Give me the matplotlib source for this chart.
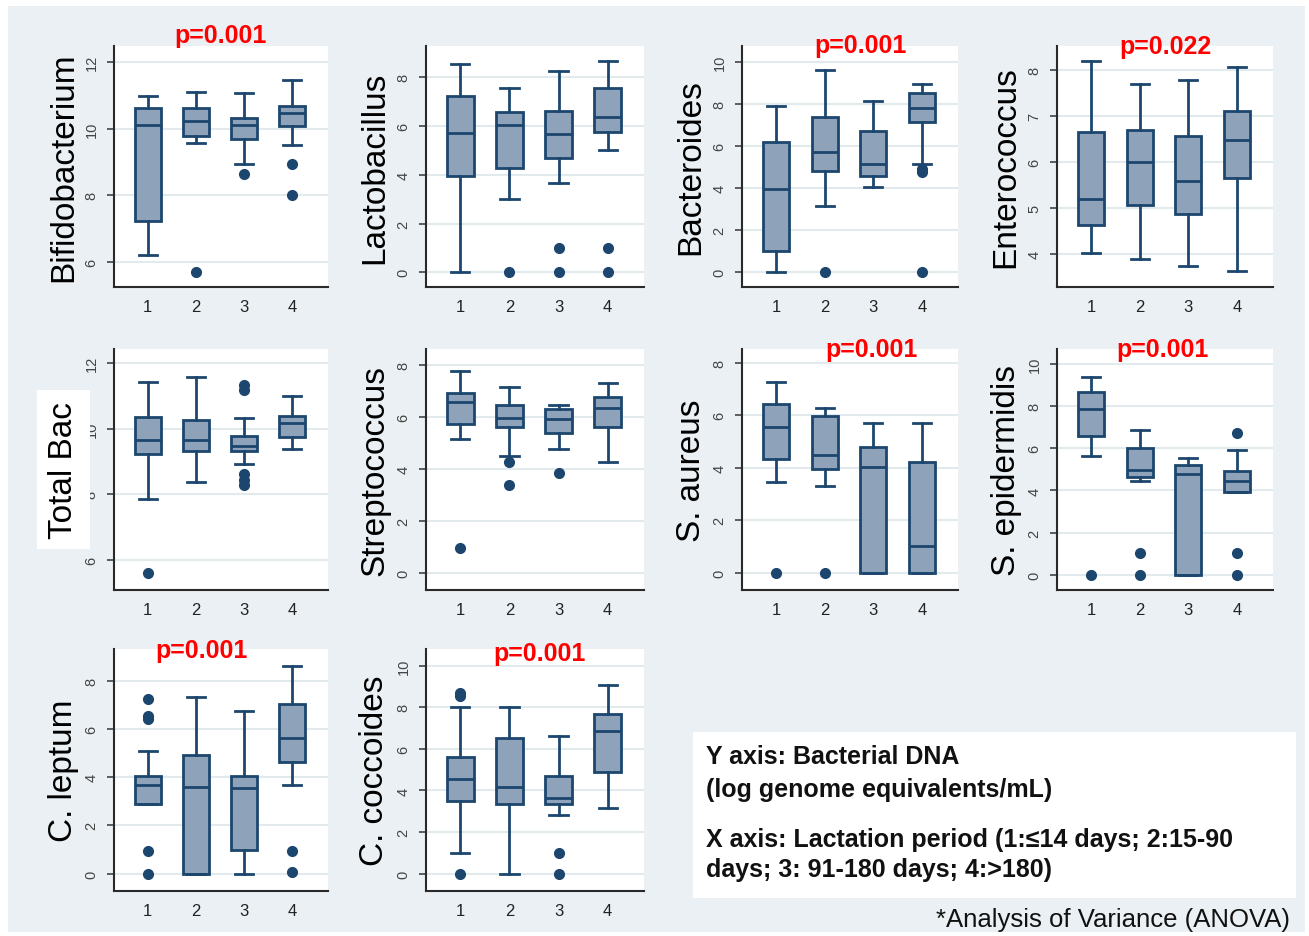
import matplotlib.pyplot as plt
from matplotlib.patches import Rectangle

plt.rcParams['font.family'] = ['Liberation Sans', 'DejaVu Sans']

# --- data: [lower whisker, Q1, median, Q3, upper whisker] per lactation period ---
groups = [1, 2, 3, 4]

bifido = [[6.22, 7.23, 10.1, 10.63, 10.96], [9.57, 9.78, 10.23, 10.62, 11.1],
          [8.93, 9.7, 10.1, 10.33, 11.05], [9.51, 10.07, 10.48, 10.68, 11.45]]
bifido_out = [[], [5.71], [8.64], [8.94, 8.02]]

lacto = [[0, 3.94, 5.72, 7.25, 8.55], [3.0, 4.28, 6.06, 6.56, 7.55],
         [3.65, 4.68, 5.68, 6.63, 8.27], [5.03, 5.74, 6.36, 7.55, 8.67]]
lacto_out = [[], [0], [1.0, 0], [1.0, 0]]

bactero = [[0, 0.98, 3.94, 6.17, 7.91], [3.16, 4.83, 5.7, 7.36, 9.62],
           [4.07, 4.56, 5.14, 6.72, 8.12], [5.13, 7.12, 7.82, 8.5, 8.97]]
bactero_out = [[], [0], [], [4.9, 4.75, 0]]

entero = [[4.03, 4.64, 5.2, 6.65, 8.2], [3.88, 5.07, 6.01, 6.7, 7.71],
          [3.74, 4.86, 5.59, 6.56, 7.78], [3.62, 5.66, 6.49, 7.12, 8.07]]
entero_out = [[], [], [], []]

total = [[7.85, 9.21, 9.65, 10.34, 11.43], [8.36, 9.31, 9.65, 10.27, 11.59],
         [8.92, 9.31, 9.48, 9.78, 10.33], [9.38, 9.73, 10.17, 10.37, 11.0]]
total_out = [[5.59], [], [11.33, 11.19, 8.61, 8.42, 8.28], []]

strepto = [[5.13, 5.71, 6.57, 6.93, 7.75], [4.5, 5.59, 5.97, 6.44, 7.16],
           [4.77, 5.36, 5.92, 6.3, 6.44], [4.28, 5.61, 6.34, 6.76, 7.29]]
strepto_out = [[0.95], [4.28, 3.38], [3.83], []]

saureus = [[3.45, 4.34, 5.54, 6.44, 7.29], [3.3, 3.96, 4.5, 5.97, 6.27],
           [0, 0, 4.03, 4.79, 5.7], [0, 0, 1.04, 4.24, 5.7]]
saureus_out = [[0], [0], [], []]

sepi = [[5.65, 6.6, 7.89, 8.69, 9.39], [4.45, 4.66, 4.95, 6.01, 6.86],
        [0, 0, 4.77, 5.22, 5.53], [3.91, 3.91, 4.47, 4.94, 5.93]]
sepi_out = [[0], [1.02, 0], [], [6.73, 1.02, 0]]

cleptum = [[2.88, 2.88, 3.68, 4.06, 5.09], [0, 0, 3.61, 4.93, 7.34],
           [0, 0.97, 3.53, 4.06, 6.73], [3.67, 4.64, 5.61, 7.03, 8.62]]
cleptum_out = [[7.24, 6.55, 6.42, 0.94, 0], [], [], [0.94, 0.08]]

ccocc = [[1.0, 3.5, 4.53, 5.59, 7.99], [0, 3.34, 4.17, 6.5, 7.99],
         [2.83, 3.34, 3.63, 4.7, 6.61], [3.18, 4.9, 6.84, 7.7, 9.07]]
ccocc_out = [[8.7, 8.55, 0], [], [1.0, 0], []]

names = ['Bifidobacterium', 'Lactobacillus', 'Bacteroides', 'Enterococcus',
         'Total Bac', 'Streptococcus', 'S. aureus', 'S. epidermidis',
         'C. leptum', 'C. coccoides']
p_values = ['p=0.001', '', 'p=0.001', 'p=0.022', '', '',
            'p=0.001', 'p=0.001', 'p=0.001', 'p=0.001']
summaries = [bifido, lacto, bactero, entero, total, strepto, saureus, sepi, cleptum, ccocc]
outliers = [bifido_out, lacto_out, bactero_out, entero_out, total_out, strepto_out,
            saureus_out, sepi_out, cleptum_out, ccocc_out]

# --- layout (pixels) ---
W, H = 1309, 937
cols = [(114, 328), (426, 644), (742, 958), (1057, 1273)]
rows = [(47, 288), (350, 591), (650, 892)]
ylims = [(5.26, 12.47), (-0.6, 9.28), (-0.71, 10.76), (3.28, 8.53), (5.07, 12.43),
         (-0.65, 8.6), (-0.65, 8.53), (-0.73, 10.72), (-0.72, 9.31), (-0.83, 10.8)]
yticks = [range(6, 13, 2), range(0, 9, 2), range(0, 11, 2), range(4, 9), range(6, 13, 2),
          range(0, 9, 2), range(0, 9, 2), range(0, 11, 2), range(0, 9, 2), range(0, 11, 2)]
p_pos = [(0.5, 1.017), None, (0.55, 0.975), (0.5, 0.97), None, None,
         (0.6, 0.971), (0.49, 0.971), (0.41, 0.967), (0.52, 0.955)]

navy = '#1c466e'
fill = '#8ea3b9'
bg = '#eaf0f3'

fig = plt.figure(figsize=(W / 100, H / 100), dpi=100, facecolor='white')
fig.add_artist(Rectangle((8 / W, 1 - 933 / H), 1297 / W, 926 / H,
                         transform=fig.transFigure, facecolor=bg, edgecolor='none', zorder=0))

for i, name in enumerate(names):
    (l, r) = cols[i % 4]
    (t, b) = rows[i // 4]
    ax = fig.add_axes([l / W, 1 - b / H, (r - l) / W, (b - t) / H])
    stats = []
    for s, o in zip(summaries[i], outliers[i]):
        stats.append(dict(whislo=s[0], q1=s[1], med=s[2], q3=s[3], whishi=s[4], fliers=o))
    ax.bxp(stats, positions=groups, widths=0.54, capwidths=0.37, patch_artist=True,
           boxprops=dict(facecolor=fill, edgecolor=navy, linewidth=2),
           medianprops=dict(color=navy, linewidth=2),
           whiskerprops=dict(color=navy, linewidth=2),
           capprops=dict(color=navy, linewidth=2),
           flierprops=dict(marker='o', markerfacecolor=navy, markeredgecolor=navy, markersize=7))
    ax.set_xlim(0.3, 4.74)
    ax.set_ylim(*ylims[i])
    ax.set_yticks(list(yticks[i]))
    ax.set_xticks(groups)
    ax.set_xticklabels([str(g) for g in groups])
    ax.yaxis.grid(True, color='#e2eaee', linewidth=1.5)
    ax.set_axisbelow(True)
    for sp in ['top', 'right']:
        ax.spines[sp].set_visible(False)
    for sp in ['left', 'bottom']:
        ax.spines[sp].set_color('#2a2a2a')
        ax.spines[sp].set_linewidth(1.5)
    ax.tick_params(axis='y', labelrotation=90, labelsize=10.5, labelcolor='#444444',
                   length=5, width=1.2, color='#444444', pad=6)
    ax.tick_params(axis='x', labelsize=12, labelcolor='#222222', length=0, pad=9)
    for lab in ax.get_yticklabels():
        lab.set_va('center')
    if name == 'Total Bac':
        ax.set_ylabel(name, fontsize=24, va='center',
                      bbox=dict(facecolor='white', edgecolor='none', pad=8))
    else:
        ax.set_ylabel(name, fontsize=24, va='center')
    ax.yaxis.set_label_coords(-0.235, 0.5)
    if p_values[i]:
        px, py = p_pos[i]
        ax.text(px, py, p_values[i], transform=ax.transAxes, ha='center', va='baseline',
                color='#ff0000', fontsize=18, fontweight='bold', clip_on=False)

# --- notes box ---
fig.add_artist(Rectangle((693 / W, 1 - 899 / H), 603 / W, 166 / H,
                         transform=fig.transFigure, facecolor='white', edgecolor='none', zorder=1))
notes = [('Y axis: Bacterial DNA', 764), ('(log genome equivalents/mL)', 797),
         ('X axis: Lactation period (1:\u226414 days; 2:15-90', 847),
         ('days; 3: 91-180 days; 4:>180)', 877)]
for txt, y in notes:
    fig.text(706 / W, 1 - y / H, txt, fontsize=18, fontweight='bold', ha='left', va='baseline',
             color='#111111')
fig.text(1290 / W, 1 - 927 / H, '*Analysis of Variance (ANOVA)', fontsize=18.5,
         ha='right', va='baseline', color='#111111')

fig.savefig('out.png', dpi=100, facecolor='white')
